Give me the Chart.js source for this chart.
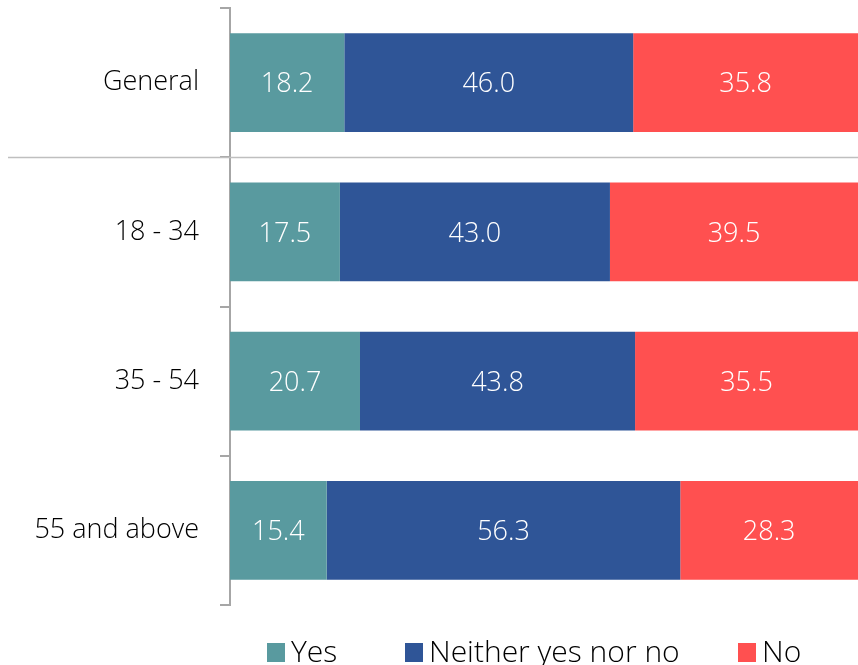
<!DOCTYPE html>
<html><head><meta charset="utf-8">
<script src="https://cdn.jsdelivr.net/npm/chart.js@4/dist/chart.umd.min.js"></script>
<style>html,body{margin:0;padding:0;background:#fff}#wrap{width:858px;height:665px}</style>
</head><body><div id="wrap"><canvas id="c"></canvas></div>
<script>
const categories = ["General", "18 - 34", "35 - 54", "55 and above"];
const yesValues = [18.2, 17.5, 20.7, 15.4];
const neitherValues = [46.0, 43.0, 43.8, 56.3];
const noValues = [35.8, 39.5, 35.5, 28.3];
const seriesNames = ["Yes", "Neither yes nor no", "No"];
const FONT = "'Open Sans', 'Segoe UI', sans-serif";

const labelPlugin = {
  id: 'barLabels',
  afterDatasetsDraw(chart) {
    const ctx = chart.ctx;
    ctx.save();
    ctx.fillStyle = '#ffffff';
    ctx.font = '300 27px ' + FONT;
    ctx.textAlign = 'center';
    ctx.textBaseline = 'middle';
    chart.data.datasets.forEach((ds, i) => {
      chart.getDatasetMeta(i).data.forEach((bar, j) => {
        const p = bar.getProps(['x', 'base', 'y'], true);
        ctx.fillText(ds.data[j].toFixed(1), (p.x + p.base) / 2, p.y + 2);
      });
    });
    ctx.restore();
  }
};
const sepPlugin = {
  id: 'separator',
  afterDraw(chart) {
    const y = chart.scales.y;
    const py = Math.round((y.getPixelForValue(0) + y.getPixelForValue(1)) / 2) + 0.5;
    const ctx = chart.ctx;
    ctx.save();
    ctx.strokeStyle = '#bfbfbf';
    ctx.lineWidth = 1.5;
    ctx.beginPath();
    ctx.moveTo(8, py);
    ctx.lineTo(chart.width, py);
    ctx.stroke();
    ctx.restore();
  }
};
const legendBoxX = [267, 405, 738];
const legendPlugin = {
  id: 'customLegend',
  afterDraw(chart) {
    const ctx = chart.ctx;
    ctx.save();
    ctx.font = '300 30px ' + FONT;
    ctx.textAlign = 'left';
    ctx.textBaseline = 'alphabetic';
    chart.data.datasets.forEach((ds, i) => {
      const x = legendBoxX[i];
      ctx.fillStyle = ds.backgroundColor;
      ctx.fillRect(x, 643, 18, 19);
      ctx.fillStyle = '#000';
      ctx.fillText(ds.label, x + 24, 662);
    });
    ctx.restore();
  }
};

new Chart(document.getElementById('c'), {
  type: 'bar',
  data: {
    labels: categories,
    datasets: [
      { label: seriesNames[0], data: yesValues, backgroundColor: '#599a9f' },
      { label: seriesNames[1], data: neitherValues, backgroundColor: '#2f5597' },
      { label: seriesNames[2], data: noValues, backgroundColor: '#ff5050' }
    ]
  },
  options: {
    indexAxis: 'y',
    responsive: true,
    maintainAspectRatio: false,
    animation: false,
    datasets: { bar: { categoryPercentage: 0.662, barPercentage: 1.0 } },
    layout: { padding: { top: 8, right: 0, left: 0, bottom: 60 } },
    scales: {
      x: { stacked: true, min: 0, max: 100, display: false },
      y: {
        stacked: true,
        afterFit(s) { s.width = 230; s.paddingTop = 0; s.paddingBottom = 0; },
        border: { display: true, color: '#a6a6a6', width: 2 },
        grid: { drawOnChartArea: false, offset: true, tickLength: 10, color: '#a6a6a6', lineWidth: 2 },
        ticks: { color: '#000', padding: 21, font: { family: FONT, size: 27, weight: '300', lineHeight: 1.4 } }
      }
    },
    plugins: {
      legend: { display: false },
      tooltip: { enabled: false }
    }
  },
  plugins: [labelPlugin, sepPlugin, legendPlugin]
});
</script></body></html>
